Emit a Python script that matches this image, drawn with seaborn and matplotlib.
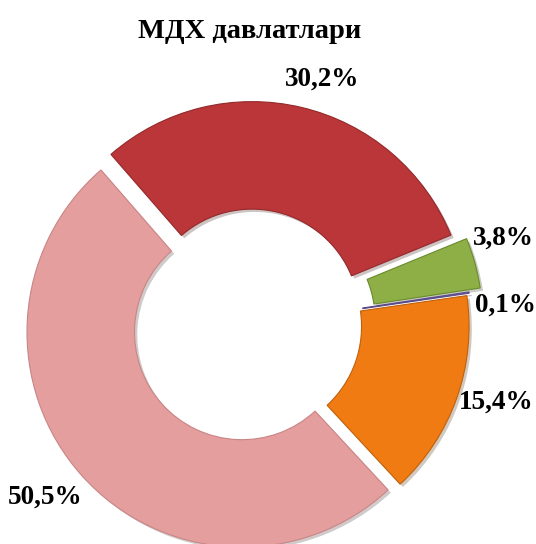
"""Donut chart: share of CIS countries."""

import matplotlib
matplotlib.use("Agg")
import matplotlib.pyplot as plt
import matplotlib.patheffects as pe
import numpy as np
import seaborn as sns

sns.set_theme(style="white")
plt.rcParams["font.family"] = ["Liberation Serif", "DejaVu Serif"]

TITLE = "МДХ давлатлари"
shares = [30.2, 3.8, 0.1, 15.4, 50.5]
labels = ["30,2%", "3,8%", "0,1%", "15,4%", "50,5%"]
colors = ["#BA3638", "#8DAF45", "#7E6BAE", "#F07B12", "#E59E9E"]
edges = ["#93292B", "#6A8A2E", "#5C4B8A", "#C0600A", "#C98585"]
explode = [0.04, 0.085, 0.03, 0.02, 0.05]
# label placement: radius factor and angular nudge (deg) from wedge middle
label_r = [1.19, 1.245, 1.19, 1.20, 1.245]
label_nudge = [-3, 3.5, -4, 2, -2]

fig = plt.figure(figsize=(5.36, 5.44), dpi=100)
ax = fig.add_axes([0, 0, 1, 1])

R = 215.0  # px per unit radius
cx, cy = 250.0, 325.0

wedges, _ = ax.pie(
    shares, colors=colors, explode=explode,
    startangle=131, counterclock=False, radius=1.0, normalize=True,
    wedgeprops=dict(width=0.5, linewidth=0.8),
)
for w, ec in zip(wedges, edges):
    w.set_edgecolor(ec)
    w.set_path_effects([pe.SimplePatchShadow(offset=(2, -2), alpha=0.25), pe.Normal()])

for w, lab, r, nd in zip(wedges, labels, label_r, label_nudge):
    mid = np.deg2rad((w.theta1 + w.theta2) / 2 + nd)
    ax.text(r * np.cos(mid), r * np.sin(mid), lab, ha="center", va="center",
            fontsize=19.5, fontweight="bold", color="black")

ax.set_xlim(-cx / R, (536 - cx) / R)
ax.set_ylim(-(544 - cy) / R, cy / R)
ax.set_aspect("equal")
ax.axis("off")
fig.text(250 / 536, 1 - 32 / 544, TITLE, ha="center", va="center",
         fontsize=20.5, fontweight="bold", color="black")

fig.savefig("out.png", dpi=100)
plt.close(fig)
